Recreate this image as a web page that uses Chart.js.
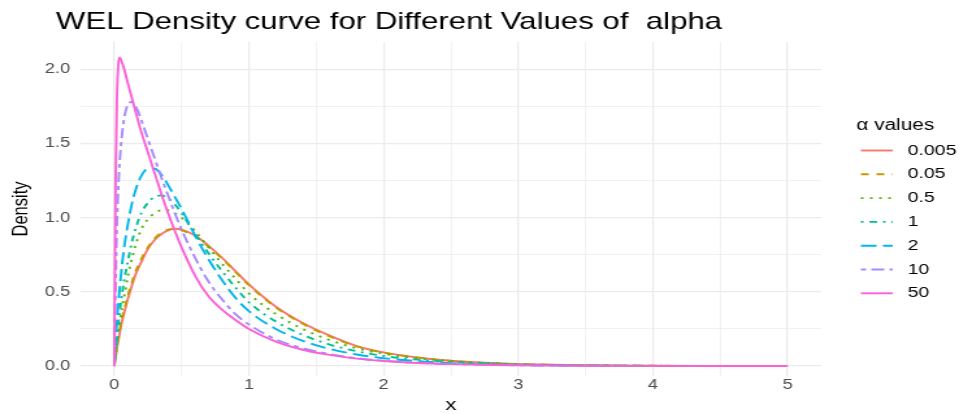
<!DOCTYPE html>
<html>
<head>
<meta charset="utf-8">
<script src="https://cdn.jsdelivr.net/npm/chart.js@4.4.1/dist/chart.umd.min.js"></script>
<style>
  body { margin: 0; background: #fff; }
</style>
</head>
<body>
<canvas id="wel" width="738" height="414" style="width:959px;height:414px"></canvas>
<script>
// alpha values (legend entries)
const alphas = ["0.005", "0.05", "0.5", "1", "2", "10", "50"];

const xs = [0, 0.01, 0.02, 0.03, 0.04, 0.06, 0.08, 0.1, 0.13, 0.16, 0.2, 0.25, 0.3, 0.35, 0.4, 0.45, 0.5,
  0.6, 0.7, 0.8, 0.9, 1.0, 1.2, 1.4, 1.6, 1.8, 2.0, 2.25, 2.5, 2.75, 3.0, 3.5, 4.0, 4.5, 5.0];

const dens0005 = [0, 0.06, 0.12, 0.17, 0.22, 0.31, 0.38, 0.45, 0.54, 0.62, 0.7, 0.79, 0.85, 0.89, 0.915, 0.925, 0.92,
  0.88, 0.81, 0.73, 0.64, 0.55, 0.4, 0.29, 0.205, 0.135, 0.092, 0.058, 0.036, 0.022, 0.014, 0.006, 0.002, 0.001, 0.0004];
const dens005 = [0, 0.07, 0.135, 0.19, 0.24, 0.33, 0.4, 0.47, 0.56, 0.64, 0.72, 0.8, 0.86, 0.9, 0.92, 0.925, 0.915,
  0.875, 0.805, 0.725, 0.635, 0.545, 0.395, 0.285, 0.2, 0.132, 0.09, 0.057, 0.035, 0.021, 0.013, 0.005, 0.002, 0.0008, 0.0003];
const dens05 = [0, 0.08, 0.15, 0.22, 0.28, 0.4, 0.5, 0.6, 0.72, 0.82, 0.92, 0.99, 1.03, 1.05, 1.05, 1.03, 1.0,
  0.91, 0.8, 0.69, 0.59, 0.49, 0.35, 0.25, 0.175, 0.12, 0.083, 0.053, 0.034, 0.021, 0.013, 0.005, 0.002, 0.0008, 0.0003];
const dens1 = [0, 0.1, 0.2, 0.29, 0.36, 0.5, 0.61, 0.7, 0.83, 0.93, 1.03, 1.1, 1.14, 1.15, 1.13, 1.09, 1.03,
  0.89, 0.76, 0.64, 0.53, 0.43, 0.3, 0.21, 0.145, 0.1, 0.068, 0.043, 0.027, 0.017, 0.01, 0.004, 0.0015, 0.0006, 0.0002];
const dens2 = [0, 0.15, 0.3, 0.42, 0.52, 0.7, 0.84, 0.95, 1.09, 1.19, 1.28, 1.33, 1.33, 1.29, 1.22, 1.14, 1.06,
  0.88, 0.72, 0.58, 0.46, 0.37, 0.25, 0.17, 0.115, 0.078, 0.053, 0.033, 0.02, 0.012, 0.008, 0.003, 0.001, 0.0005, 0.0002];
const dens10 = [0, 0.55, 0.95, 1.2, 1.37, 1.58, 1.7, 1.76, 1.78, 1.75, 1.66, 1.53, 1.4, 1.27, 1.15, 1.03, 0.92,
  0.73, 0.57, 0.45, 0.35, 0.28, 0.18, 0.12, 0.08, 0.053, 0.036, 0.022, 0.014, 0.009, 0.005, 0.002, 0.001, 0.0004, 0.0001];
const dens50 = [0, 1.25, 1.8, 2.03, 2.08, 2.04, 1.98, 1.91, 1.81, 1.71, 1.58, 1.44, 1.3, 1.16, 1.03, 0.91, 0.8,
  0.61, 0.47, 0.38, 0.31, 0.25, 0.165, 0.11, 0.075, 0.05, 0.034, 0.021, 0.013, 0.008, 0.005, 0.002, 0.001, 0.0004, 0.0001];

const series = [dens0005, dens005, dens05, dens1, dens2, dens10, dens50];

// tick / grid positions
const xGrid = [0, 0.5, 1, 1.5, 2, 2.5, 3, 3.5, 4, 4.5, 5];
const yGrid = [0, 0.25, 0.5, 0.75, 1, 1.25, 1.5, 1.75, 2];

const colors = ["#F8766D", "#C49A00", "#53B400", "#00C094", "#00B6EB", "#A58AFF", "#FB61D7"];
const dashes = [[], [6, 6], [2, 5], [2, 4.5, 6, 4.5], [12, 5], [4, 4, 10, 4], []];

const FONT = "'Liberation Sans', Arial, sans-serif";

const datasets = alphas.map((a, i) => ({
  label: a,
  data: xs.map((x, j) => ({ x: x, y: series[i][j] })),
  borderColor: colors[i],
  borderWidth: 1.9,
  borderDash: dashes[i],
  pointRadius: 0,
  fill: false,
  cubicInterpolationMode: "monotone",
  order: alphas.length - i, // 50 drawn on top
}));

// title + legend, ggplot style
const decor = {
  id: "decor",
  afterDraw(chart) {
    const c = chart.ctx;
    c.save();
    c.fillStyle = "#000";
    c.font = "24px " + FONT;
    c.textBaseline = "alphabetic";
    c.textAlign = "left";
    c.fillText("WEL Density curve for Different Values of  alpha", 43, 29);

    c.font = "16px " + FONT;
    c.textBaseline = "middle";
    c.fillText("\u03B1 values", 659, 126);

    c.font = "15px " + FONT;
    chart.data.datasets.forEach((ds, i) => {
      const y = 150.5 + i * 23.8;
      c.strokeStyle = ds.borderColor;
      c.lineWidth = 1.9;
      c.setLineDash(ds.borderDash);
      c.beginPath();
      c.moveTo(662.5, y);
      c.lineTo(687, y);
      c.stroke();
      c.setLineDash([]);
      c.fillStyle = "#000";
      c.fillText(ds.label, 698.5, y);
    });
    c.restore();
  },
};

new Chart(document.getElementById("wel"), {
  type: "line",
  data: { datasets: datasets },
  options: {
    responsive: false,
    devicePixelRatio: 1,
    animation: false,
    layout: { padding: { left: 0, top: 42, right: 106, bottom: 0 } },
    plugins: {
      legend: { display: false },
      tooltip: { enabled: false },
    },
    scales: {
      x: {
        type: "linear",
        min: -0.25,
        max: 5.25,
        afterBuildTicks: (s) => { s.ticks = xGrid.map((v) => ({ value: v })); },
        afterFit: (s) => { s.height = 38; },
        border: { display: false },
        grid: {
          color: "#ebebeb",
          drawTicks: false,
          lineWidth: (ctx) => (Number.isInteger(ctx.tick.value) ? 1.3 : 0.7),
        },
        ticks: {
          autoSkip: false,
          maxRotation: 0,
          padding: 1,
          color: "#4d4d4d",
          font: { family: FONT, size: 14 },
          callback: (v) => (Number.isInteger(v) ? String(v) : ""),
        },
        title: {
          display: true,
          text: "x",
          color: "#000",
          font: { family: FONT, size: 17, lineHeight: 1 },
          padding: { top: 0, bottom: 0 },
        },
      },
      y: {
        type: "linear",
        min: -0.067,
        max: 2.184,
        afterBuildTicks: (s) => { s.ticks = yGrid.map((v) => ({ value: v })); },
        afterFit: (s) => { s.width = 62; },
        border: { display: false },
        grid: {
          color: "#ebebeb",
          drawTicks: false,
          lineWidth: (ctx) => (ctx.tick.value % 0.5 === 0 ? 1.3 : 0.7),
        },
        ticks: {
          autoSkip: false,
          padding: 8,
          color: "#4d4d4d",
          font: { family: FONT, size: 14 },
          callback: (v) => (v % 0.5 === 0 ? v.toFixed(1) : ""),
        },
        title: {
          display: true,
          text: "Density",
          color: "#000",
          font: { family: FONT, size: 16.5 },
          padding: { top: 7, bottom: 0 },
        },
      },
    },
  },
  plugins: [decor],
});
</script>
</body>
</html>
